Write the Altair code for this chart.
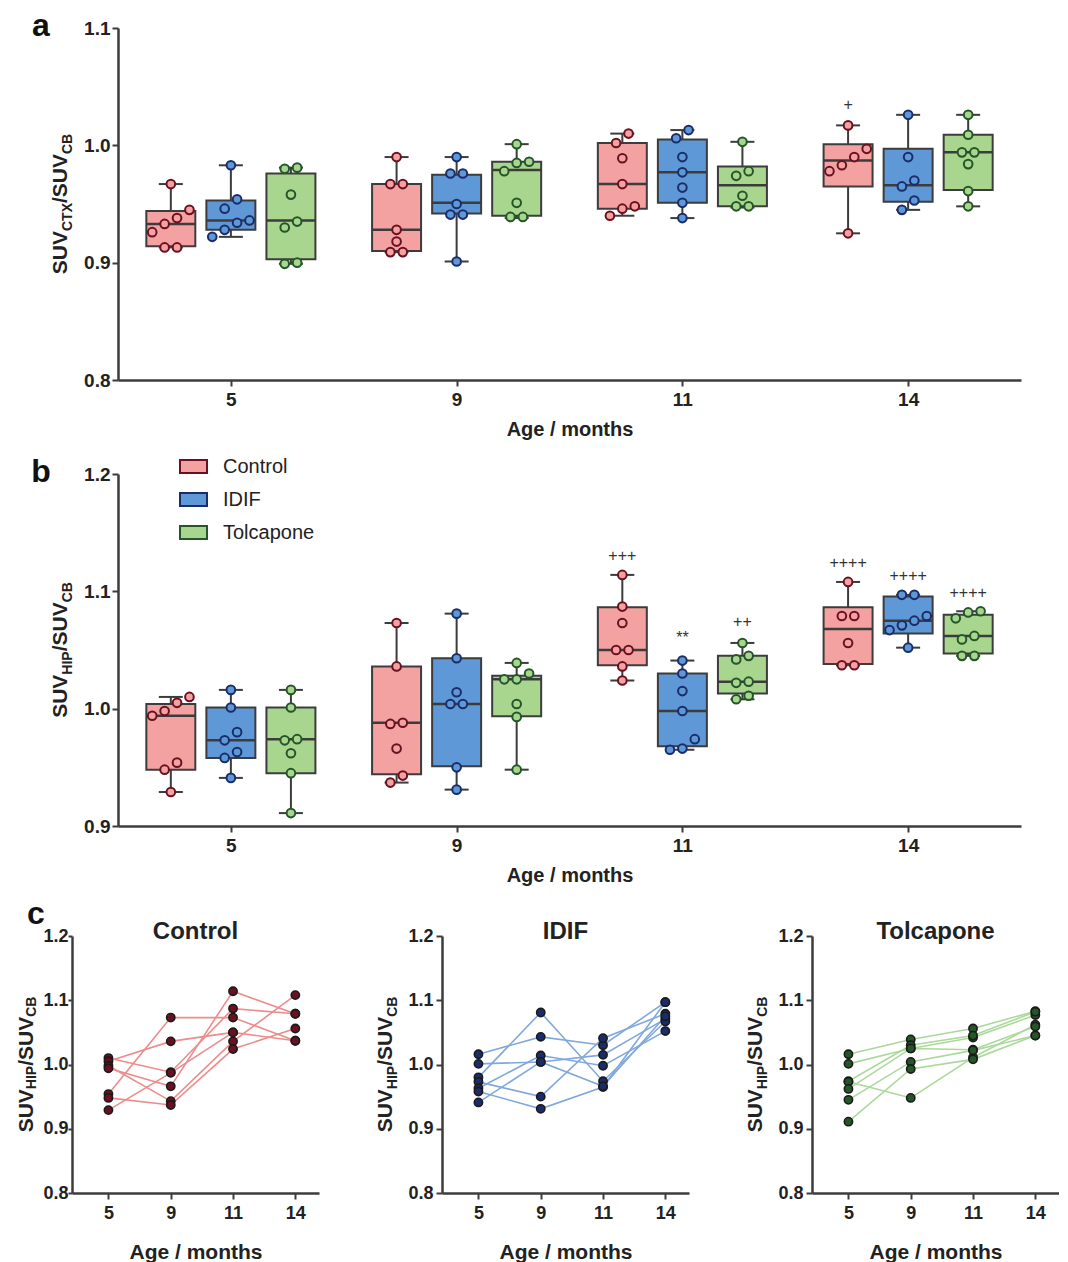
import json
import altair as alt
import pandas as pd

FONT = "Liberation Sans"
TXT = "#222222"
AX = "#3c3c3c"

AGES = ["5", "9", "11", "14"]
GROUPS = ["Control", "IDIF", "Tolcapone"]
BOX_FILL = ["#F4A1A1", "#5F98D6", "#A8D68F"]
DOT_EDGE = ["#6A1020", "#1A2D6A", "#245628"]
LINE_COLOR = ["#EC8C8C", "#80A8DC", "#AAD99B"]

# ---------------- panel a : SUV_CTX / SUV_CB (one list per age) ----------------
ctx_control = [
    [0.967, 0.945, 0.938, 0.933, 0.926, 0.913, 0.913],
    [0.990, 0.967, 0.967, 0.928, 0.918, 0.909, 0.909],
    [1.010, 1.002, 0.989, 0.967, 0.948, 0.946, 0.940],
    [1.017, 0.997, 0.990, 0.983, 0.978, 0.925],
]
ctx_idif = [
    [0.983, 0.954, 0.946, 0.936, 0.934, 0.928, 0.922],
    [0.990, 0.976, 0.976, 0.950, 0.941, 0.941, 0.901],
    [1.013, 1.006, 0.990, 0.977, 0.964, 0.951, 0.938],
    [1.026, 0.990, 0.970, 0.965, 0.953, 0.945],
]
ctx_tolcapone = [
    [0.981, 0.980, 0.958, 0.935, 0.930, 0.900, 0.899],
    [1.001, 0.986, 0.985, 0.978, 0.951, 0.939, 0.939],
    [1.003, 0.978, 0.974, 0.957, 0.948, 0.948],
    [1.026, 1.009, 0.994, 0.994, 0.984, 0.961, 0.948],
]
# box statistics (min, q1, median, q3, max) per age
ctx_box_control = [(0.913, 0.914, 0.933, 0.944, 0.967), (0.909, 0.910, 0.928, 0.967, 0.990),
                   (0.940, 0.946, 0.967, 1.002, 1.010), (0.925, 0.965, 0.987, 1.001, 1.017)]
ctx_box_idif = [(0.922, 0.928, 0.936, 0.953, 0.983), (0.901, 0.942, 0.951, 0.975, 0.990),
                (0.938, 0.951, 0.977, 1.005, 1.013), (0.945, 0.952, 0.966, 0.997, 1.026)]
ctx_box_tolcapone = [(0.899, 0.903, 0.936, 0.976, 0.981), (0.938, 0.940, 0.979, 0.986, 1.001),
                     (0.947, 0.948, 0.966, 0.982, 1.003), (0.948, 0.962, 0.994, 1.009, 1.026)]
ctx_marks = [("Control", 3, "+", 1.034)]

# ---------------- panel b / c : SUV_HIP / SUV_CB (one list per age, index = animal) ----------------
hip_control = [
    [1.010, 1.005, 0.998, 0.994, 0.954, 0.948, 0.929],
    [0.988, 1.036, 0.943, 0.966, 1.073, 0.937, 0.987],
    [1.087, 1.050, 1.036, 1.114, 1.073, 1.024, 1.050],
    [1.079, 1.037, 1.108, 1.079, 1.037, 1.056, None],
]
hip_idif = [
    [1.016, 1.001, 0.980, 0.973, 0.963, 0.958, 0.941],
    [1.043, 1.004, 1.081, 0.950, 1.014, 0.931, 1.004],
    [1.030, 1.015, 0.974, 1.041, 0.998, 0.965, 0.966],
    [1.097, 1.071, 1.067, 1.079, 1.052, 1.097, 1.075],
]
hip_tolcapone = [
    [1.016, 1.001, 0.974, 0.973, 0.962, 0.945, 0.911],
    [1.039, 1.025, 1.030, 0.948, 1.025, 1.004, 0.993],
    [1.056, 1.042, 1.045, 1.011, 1.023, 1.022, 1.008],
    [1.083, 1.077, 1.082, 1.062, 1.059, 1.045, 1.045],
]
hip_box_control = [(0.929, 0.948, 0.994, 1.004, 1.010), (0.937, 0.944, 0.988, 1.036, 1.073),
                   (1.024, 1.037, 1.050, 1.0865, 1.114), (1.037, 1.038, 1.068, 1.0865, 1.108)]
hip_box_idif = [(0.941, 0.958, 0.973, 1.001, 1.016), (0.931, 0.951, 1.004, 1.043, 1.081),
                (0.965, 0.968, 0.998, 1.030, 1.041), (1.052, 1.064, 1.075, 1.0955, 1.097)]
hip_box_tolcapone = [(0.911, 0.945, 0.974, 1.001, 1.016), (0.948, 0.9935, 1.025, 1.028, 1.039),
                     (1.008, 1.013, 1.023, 1.045, 1.056), (1.045, 1.047, 1.062, 1.080, 1.083)]
hip_marks = [("Control", 2, "+++", 1.130), ("IDIF", 2, "**", 1.060), ("Tolcapone", 2, "++", 1.074),
             ("Control", 3, "++++", 1.124), ("IDIF", 3, "++++", 1.113), ("Tolcapone", 3, "++++", 1.099)]

LABEL_EXPR = json.dumps(AGES) + "[datum.value]"
GOFF = 0.266   # group offset inside an age (age units)
BHALF = 0.1085  # half box width (age units)

ONE = pd.DataFrame({"k": [0]})


def spread(vals, tol=0.0085, step=0.055):
    order = sorted(range(len(vals)), key=lambda i: vals[i])
    offs = [0.0] * len(vals)
    clusters = []
    for i in order:
        if clusters and abs(vals[i] - vals[clusters[-1][-1]]) < tol:
            clusters[-1].append(i)
        else:
            clusters.append([i])
    for c in clusters:
        k = len(c)
        for r, i in enumerate(c):
            offs[i] = (r - (k - 1) / 2) * step
    return offs


def point_frame(series):
    rows = []
    for gi, data in enumerate(series):
        for ai, vals in enumerate(data):
            vals = [v for v in vals if v is not None]
            for v, o in zip(vals, spread(vals)):
                rows.append(dict(group=GROUPS[gi], gi=gi, ai=ai, value=v, jit=o))
    return pd.DataFrame(rows)


def box_frame(series):
    rows = []
    for gi, data in enumerate(series):
        for ai, (mn, q1, md, q3, mx) in enumerate(data):
            rows.append(dict(group=GROUPS[gi], gi=gi, ai=ai, mn=mn, q1=q1, md=md, q3=q3, mx=mx))
    return pd.DataFrame(rows)


def mark_frame(marks):
    return pd.DataFrame([dict(group=g, gi=GROUPS.index(g), ai=a, label=t, yv=y) for g, a, t, y in marks])


WB = {'S': 0.667, 'U': 0.722, 'V': 0.667, 'C': 0.722, 'T': 0.611, 'X': 0.667, '/': 0.278,
      'H': 0.722, 'I': 0.278, 'P': 0.667, 'B': 0.722}


def ytitle(parts, bx, cy, F, f, shift):
    lens = [sum(WB[ch] for ch in t) * (f if sub else F) for t, sub in parts]
    y = cy + sum(lens) / 2
    out = []
    for (t, sub), ln in zip(parts, lens):
        out.append(alt.Chart(ONE).mark_text(
            text=t, angle=270, align="left", baseline="alphabetic", font=FONT,
            fontWeight="bold", fontSize=f if sub else F, color=TXT
        ).encode(x=alt.value(bx + (shift if sub else 0)), y=alt.value(y)))
        y -= ln
    return out


def letter(t, x, y):
    return alt.Chart(ONE).mark_text(text=t, font=FONT, fontWeight="bold", fontSize=32, color="#111",
                                    align="center", baseline="middle").encode(x=alt.value(x), y=alt.value(y))


def spacer(x):
    # invisible (white, 1px) rule fixing the left edge of a panel's bounds
    return alt.Chart(ONE).mark_rule(color="white", strokeWidth=1).encode(
        x=alt.value(x), x2=alt.value(x + 1), y=alt.value(60))


W_AB, H_AB = 903, 352


def label_panel(let, tparts):
    layers = [letter(let, -31, -2)] + ytitle(tparts, -5, H_AB / 2, 21, 14, 5)
    return alt.layer(*layers).properties(width=1, height=H_AB)


def box_panel(pts, boxes, ydom, yvals, marks, show_legend):
    xsc = alt.Scale(domain=[-0.5, 3.5], nice=False, zero=False)
    ysc = alt.Scale(domain=ydom, nice=False, zero=False)
    xax = alt.Axis(values=[0, 1, 2, 3], labelExpr=LABEL_EXPR, title="Age / months",
                   labelFontSize=19, titleFontSize=20, tickSize=6, labelPadding=4, titlePadding=10)
    yax = alt.Axis(values=yvals, format=".1f", title=None, labelFontSize=19, tickSize=6, labelPadding=2)
    calc = dict(xc=f"datum.ai + (datum.gi - 1) * {GOFF}",
                xl=f"datum.ai + (datum.gi - 1) * {GOFF} - {BHALF}",
                xr=f"datum.ai + (datum.gi - 1) * {GOFF} + {BHALF}")
    bx = alt.Chart(boxes).transform_calculate(**calc)
    X = alt.X("xc:Q", scale=xsc, axis=xax)
    whisk = bx.mark_rule(color=AX, strokeWidth=2).encode(
        x=X, y=alt.Y("mn:Q", scale=ysc, axis=yax), y2="mx:Q")
    if show_legend:
        leg = alt.Legend(orient="none", legendX=61, legendY=-22, title=None,
                         symbolType="M-1,-0.48H1V0.48H-1Z", symbolSize=729,
                         symbolStrokeColor="#333", symbolStrokeWidth=2, symbolOpacity=1,
                         labelFont=FONT, labelFontSize=20, labelColor=TXT, labelOffset=15,
                         rowPadding=8, padding=0)
    else:
        leg = None
    box = bx.mark_bar(stroke=AX, strokeWidth=2, opacity=1).encode(
        x=alt.X("xl:Q", scale=xsc, axis=xax), x2="xr:Q",
        y=alt.Y("q1:Q", scale=ysc, axis=yax), y2="q3:Q",
        fill=alt.Fill("group:N", scale=alt.Scale(domain=GROUPS, range=BOX_FILL), legend=leg))
    med = bx.mark_tick(orient="horizontal", size=49, thickness=2.5, color=AX, opacity=1).encode(
        x=X, y=alt.Y("md:Q", scale=ysc, axis=yax))
    cap1 = bx.mark_tick(orient="horizontal", size=24, thickness=2, color=AX, opacity=1).encode(
        x=X, y=alt.Y("mn:Q", scale=ysc, axis=yax))
    cap2 = bx.mark_tick(orient="horizontal", size=24, thickness=2, color=AX, opacity=1).encode(
        x=X, y=alt.Y("mx:Q", scale=ysc, axis=yax))
    dots = alt.Chart(pts).transform_calculate(
        xp=f"datum.ai + (datum.gi - 1) * {GOFF} + datum.jit"
    ).mark_point(shape="circle", filled=True, size=75, strokeWidth=2, opacity=1).encode(
        x=alt.X("xp:Q", scale=xsc, axis=xax), y=alt.Y("value:Q", scale=ysc, axis=yax),
        color=alt.Color("group:N", scale=alt.Scale(domain=GROUPS, range=BOX_FILL), legend=None),
        stroke=alt.Stroke("group:N", scale=alt.Scale(domain=GROUPS, range=DOT_EDGE), legend=None))
    ann = alt.Chart(marks).transform_calculate(xc=calc["xc"]).mark_text(
        font=FONT, fontSize=16, color="#333", baseline="middle").encode(
        x=alt.X("xc:Q", scale=xsc, axis=xax), y=alt.Y("yv:Q", scale=ysc, axis=yax), text="label:N")
    layers = [whisk, box, med, cap1, cap2, dots, ann, spacer(-40)]
    return alt.layer(*layers).properties(width=W_AB, height=H_AB)


W_C, H_C = 247, 257


def line_panel(gi, data, name, first):
    rows = []
    for ai, vals in enumerate(data):
        for j, v in enumerate(vals):
            if v is not None:
                rows.append(dict(subj=j, ai=ai, value=v))
    df = pd.DataFrame(rows)
    xsc = alt.Scale(domain=[-0.585, 3.38], nice=False, zero=False)
    ysc = alt.Scale(domain=[0.8, 1.2], nice=False, zero=False)
    xax = alt.Axis(values=[0, 1, 2, 3], labelExpr=LABEL_EXPR, title="Age / months",
                   labelFontSize=18, titleFontSize=21, tickSize=6, labelPadding=5, titlePadding=19)
    yax = alt.Axis(values=[0.8, 0.9, 1.0, 1.1, 1.2], format=".1f", title=None,
                   labelFontSize=18, tickSize=4 if first else 6, labelPadding=0 if first else 3)
    base = alt.Chart(df)
    lines = base.mark_line(color=LINE_COLOR[gi], strokeWidth=1.6).encode(
        x=alt.X("ai:Q", scale=xsc, axis=xax), y=alt.Y("value:Q", scale=ysc, axis=yax), detail="subj:N")
    dots = base.mark_point(shape="circle", filled=True, size=68, fill=DOT_EDGE[gi], stroke="#1a1a1a",
                           strokeWidth=1.6, opacity=1).encode(
        x=alt.X("ai:Q", scale=xsc, axis=xax), y=alt.Y("value:Q", scale=ysc, axis=yax))
    ttl = alt.Chart(ONE).mark_text(text=name, font=FONT, fontWeight="bold", fontSize=24, color=TXT,
                                   align="center", baseline="alphabetic").encode(
        x=alt.value(W_C / 2), y=alt.value(3))
    layers = [lines, dots, ttl]
    layers += ytitle([("SUV", False), ("HIP", True), ("/SUV", False), ("CB", True)],
                     -39 if first else -50, H_C / 2, 21, 14, 3 if first else 5)
    if first:
        layers.append(letter("c", -36, -22))
        layers.append(spacer(-63))
    return alt.layer(*layers).properties(width=W_C, height=H_C)


INDEP = dict(fill="independent", color="independent", stroke="independent")

panel_a = box_panel(point_frame([ctx_control, ctx_idif, ctx_tolcapone]),
                    box_frame([ctx_box_control, ctx_box_idif, ctx_box_tolcapone]),
                    [0.8, 1.1], [0.8, 0.9, 1.0, 1.1], mark_frame(ctx_marks), False)
panel_b = box_panel(point_frame([hip_control, hip_idif, hip_tolcapone]),
                    box_frame([hip_box_control, hip_box_idif, hip_box_tolcapone]),
                    [0.9, 1.2], [0.9, 1.0, 1.1, 1.2], mark_frame(hip_marks), True)

row_a = alt.hconcat(label_panel("a", [("SUV", False), ("CTX", True), ("/SUV", False), ("CB", True)]),
                    panel_a, spacing=2).resolve_scale(**INDEP)
row_b = alt.hconcat(label_panel("b", [("SUV", False), ("HIP", True), ("/SUV", False), ("CB", True)]),
                    panel_b, spacing=2).resolve_scale(**INDEP)
row_c = alt.hconcat(line_panel(0, hip_control, "Control", True),
                    line_panel(1, hip_idif, "IDIF", False),
                    line_panel(2, hip_tolcapone, "Tolcapone", False), spacing=56)

chart = alt.vconcat(row_a, row_b, row_c, spacing=13).resolve_scale(**INDEP).properties(
    padding={"left": 0, "top": 2, "right": 0, "bottom": 0}
).configure(font=FONT, background="white").configure_view(stroke=None).configure_axis(
    grid=False, domainColor=AX, domainWidth=2.5, tickColor=AX, tickWidth=2,
    labelFont=FONT, labelFontWeight="bold", labelColor=TXT,
    titleFont=FONT, titleFontWeight="bold", titleColor=TXT,
)

chart.save("out.html", embed_options={"renderer": "svg", "actions": False})
